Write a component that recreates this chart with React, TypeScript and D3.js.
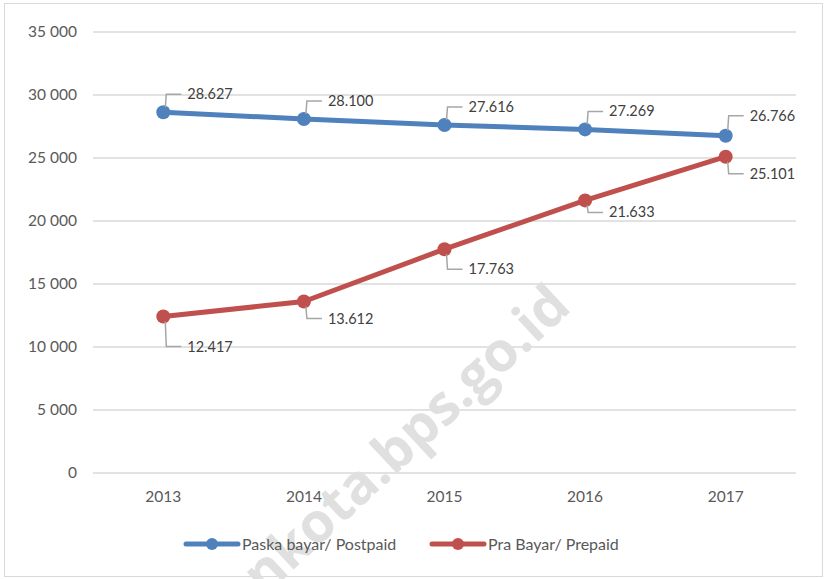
import React from "react";
import * as d3 from "d3";

// data
const years = ["2013", "2014", "2015", "2016", "2017"];
const postpaid = [28627, 28100, 27616, 27269, 26766];
const prepaid = [12417, 13612, 17763, 21633, 25101];
const yTicks = [0, 5000, 10000, 15000, 20000, 25000, 30000, 35000];
const seriesNames = ["Paska bayar/ Postpaid", "Pra Bayar/ Prepaid"];

// label placement (vertical offset from point)
const postpaidLabelDy = [-18, -18, -18, -18, -20];
const prepaidLabelDy = [30, 17, 20, 12, 17];

const W = 826;
const H = 579;
const FONT = "Lato, 'Open Sans', sans-serif";
const TEXT = "#595959";
const BLUE = "#4F81BD";
const RED = "#C0504D";

const fmtTick = (v: number) => d3.format(",")(v).replace(/,/g, " ");
const fmtLabel = (v: number) => d3.format(",")(v).replace(/,/g, ".");

const App: React.FC = () => {
  const x = d3.scaleBand().domain(years).range([93, 796]);
  const y = d3.scaleLinear().domain([0, 35000]).range([473, 32]);
  const cx = (yr: string) => (x(yr) as number) + x.bandwidth() / 2;

  const line = d3
    .line<number>()
    .x((_, i) => cx(years[i]))
    .y((d) => y(d));

  const series = [
    { name: seriesNames[0], values: postpaid, color: BLUE, dys: postpaidLabelDy },
    { name: seriesNames[1], values: prepaid, color: RED, dys: prepaidLabelDy },
  ];

  const legendX = [186, 432];

  return (
    <svg
      width={W}
      height={H}
      style={{ position: "absolute", left: 0, top: 0 }}
      fontFamily={FONT}
    >
      <rect x={0} y={0} width={W} height={H} fill="#fff" />
      <rect x={4.5} y={3.5} width={818} height={573} fill="none" stroke="#d9d9d9" />

      {/* gridlines + y ticks */}
      {yTicks.map((t) => (
        <g key={t}>
          <line x1={93} x2={796} y1={y(t)} y2={y(t)} stroke="#d9d9d9" strokeWidth={1.3} />
          <text x={77} y={y(t)} dy="0.35em" textAnchor="end" fontSize={15.5} fill={TEXT}>
            {fmtTick(t)}
          </text>
        </g>
      ))}

      {/* x labels */}
      {years.map((yr) => (
        <text key={yr} x={cx(yr)} y={497} dy="0.35em" textAnchor="middle" fontSize={15.5} fill={TEXT}>
          {yr}
        </text>
      ))}

      {/* watermark */}
      <text
        transform="translate(362,506) rotate(-43)"
        textAnchor="middle"
        fontSize={55}
        fontWeight="bold"
        fill="#e0e0e0"
        fontFamily="'Open Sans', sans-serif"
      >
        medankota.bps.go.id
      </text>

      {/* lines and markers */}
      {series.map((s) => (
        <g key={s.name}>
          <path d={line(s.values) || ""} fill="none" stroke={s.color} strokeWidth={5} strokeLinejoin="round" />
          {s.values.map((v, i) => (
            <circle key={i} cx={cx(years[i])} cy={y(v)} r={7} fill={s.color} />
          ))}
        </g>
      ))}

      {/* data labels with leader lines */}
      {series.map((s) =>
        s.values.map((v, i) => {
          const px = cx(years[i]) + 2;
          const py = y(v);
          const ly = py + s.dys[i];
          const up = s.dys[i] < 0;
          return (
            <g key={s.name + i}>
              <polyline
                points={`${px},${py + (up ? -5 : 5)} ${px + 1},${ly} ${px + 16},${ly}`}
                fill="none"
                stroke="#a6a6a6"
                strokeWidth={1.5}
              />
              <text x={px + 22} y={ly} dy="0.35em" fontSize={14.5} fill="#404040">
                {fmtLabel(v)}
              </text>
            </g>
          );
        })
      )}

      {/* legend */}
      {series.map((s, i) => (
        <g key={s.name} transform={`translate(${legendX[i]},544)`}>
          <line x1={0} x2={52} y1={0} y2={0} stroke={s.color} strokeWidth={5} strokeLinecap="round" />
          <circle cx={26} cy={0} r={6} fill={s.color} />
          <text x={56} y={0} dy="0.35em" fontSize={16} fill={TEXT}>
            {s.name}
          </text>
        </g>
      ))}
    </svg>
  );
};

export default App;
